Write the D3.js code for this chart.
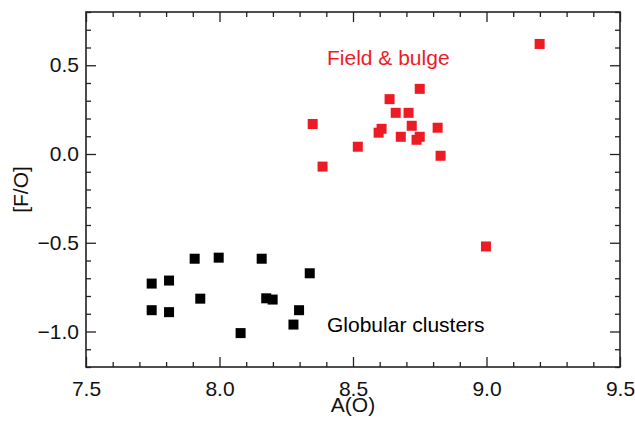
<!DOCTYPE html>
<html>
<head>
<meta charset="utf-8">
<script src="https://cdn.jsdelivr.net/npm/d3@7"></script>
<style>
  body { margin: 0; background: #fff; }
  text { font-family: "Liberation Sans", Arial, sans-serif; }
</style>
</head>
<body>
<svg width="635" height="421"></svg>
<script>
// ---- data ----
var gcAO = [7.746, 7.746, 7.811, 7.811, 7.907, 7.928, 7.997, 8.079, 8.158, 8.175, 8.199, 8.277, 8.298, 8.338];
var gcFO = [-0.730, -0.880, -0.713, -0.891, -0.590, -0.815, -0.584, -1.009, -0.590, -0.813, -0.820, -0.961, -0.880, -0.672];

var fbAO = [9.199, 8.750, 8.637, 8.660, 8.708, 8.720, 8.607, 8.596, 8.679, 8.750, 8.738, 8.817, 8.828, 8.518, 8.386, 8.349, 8.998];
var fbFO = [0.620, 0.367, 0.309, 0.232, 0.232, 0.159, 0.142, 0.120, 0.097, 0.097, 0.080, 0.148, -0.010, 0.041, -0.071, 0.169, -0.521];

var xMajor = [7.5, 8.0, 8.5, 9.0, 9.5];
var yMajor = [-1.0, -0.5, 0.0, 0.5];

var mLeft = 86, mRight = 620, mTop = 12, mBottom = 367;
var red = "#ed1c24";
var fs = "21px";

var svg = d3.select("svg");

var xs = d3.scaleLinear().domain([7.5, 9.5]).range([mLeft, mRight]);
var ys = d3.scaleLinear().domain([-1.2, 0.8]).range([mBottom, mTop]);

var xMinor = d3.range(75, 96).map(d => d / 10).filter(d => xMajor.indexOf(d) < 0);
var yMinor = d3.range(-12, 9).map(d => d / 10).filter(d => yMajor.indexOf(d) < 0);

var fmt = d3.format(".1f");

// ---- axes (ticks point inward, mirrored on top/right) ----
function styleAxis(g) {
  g.select(".domain").remove();
  g.selectAll("line").attr("stroke", "#222").attr("stroke-width", 1.3);
  g.selectAll("text").attr("fill", "#111").style("font-size", fs);
}

svg.append("g").attr("transform", "translate(0," + mBottom + ")")
  .call(d3.axisBottom(xs).tickValues(xMajor).tickSize(-10).tickPadding(14).tickFormat(fmt)).call(styleAxis);
svg.append("g").attr("transform", "translate(0," + mBottom + ")")
  .call(d3.axisBottom(xs).tickValues(xMinor).tickSize(-5).tickFormat("")).call(styleAxis);
svg.append("g").attr("transform", "translate(0," + mTop + ")")
  .call(d3.axisTop(xs).tickValues(xMajor).tickSize(-10).tickFormat("")).call(styleAxis);
svg.append("g").attr("transform", "translate(0," + mTop + ")")
  .call(d3.axisTop(xs).tickValues(xMinor).tickSize(-5).tickFormat("")).call(styleAxis);

svg.append("g").attr("transform", "translate(" + mLeft + ",0)")
  .call(d3.axisLeft(ys).tickValues(yMajor).tickSize(-10).tickPadding(7).tickFormat(fmt)).call(styleAxis);
svg.append("g").attr("transform", "translate(" + mLeft + ",0)")
  .call(d3.axisLeft(ys).tickValues(yMinor).tickSize(-5).tickFormat("")).call(styleAxis);
svg.append("g").attr("transform", "translate(" + mRight + ",0)")
  .call(d3.axisRight(ys).tickValues(yMajor).tickSize(-10).tickFormat("")).call(styleAxis);
svg.append("g").attr("transform", "translate(" + mRight + ",0)")
  .call(d3.axisRight(ys).tickValues(yMinor).tickSize(-5).tickFormat("")).call(styleAxis);

// frame
svg.append("rect")
  .attr("x", mLeft).attr("y", mTop)
  .attr("width", mRight - mLeft).attr("height", mBottom - mTop)
  .attr("fill", "none").attr("stroke", "#222").attr("stroke-width", 1.6);

// ---- points ----
var sz = 10;
svg.append("g").selectAll("rect")
  .data(d3.zip(gcAO, gcFO))
  .enter().append("rect")
  .attr("x", d => xs(d[0]) - sz / 2)
  .attr("y", d => ys(d[1]) - sz / 2)
  .attr("width", sz).attr("height", sz)
  .attr("fill", "#000");

svg.append("g").selectAll("rect")
  .data(d3.zip(fbAO, fbFO))
  .enter().append("rect")
  .attr("x", d => xs(d[0]) - sz / 2)
  .attr("y", d => ys(d[1]) - sz / 2)
  .attr("width", sz).attr("height", sz)
  .attr("fill", red);

// ---- labels ----
svg.append("text").attr("x", 327).attr("y", 65)
  .attr("fill", red).style("font-size", fs).text("Field & bulge");
svg.append("text").attr("x", 327).attr("y", 332)
  .attr("fill", "#000").style("font-size", fs).text("Globular clusters");

svg.append("text").attr("x", (mLeft + mRight) / 2).attr("y", 412)
  .attr("text-anchor", "middle").attr("fill", "#111").style("font-size", fs).text("A(O)");
svg.append("text")
  .attr("transform", "translate(28," + ((mTop + mBottom) / 2) + ") rotate(-90)")
  .attr("text-anchor", "middle").attr("fill", "#111").style("font-size", fs).text("[F/O]");
</script>
</body>
</html>
